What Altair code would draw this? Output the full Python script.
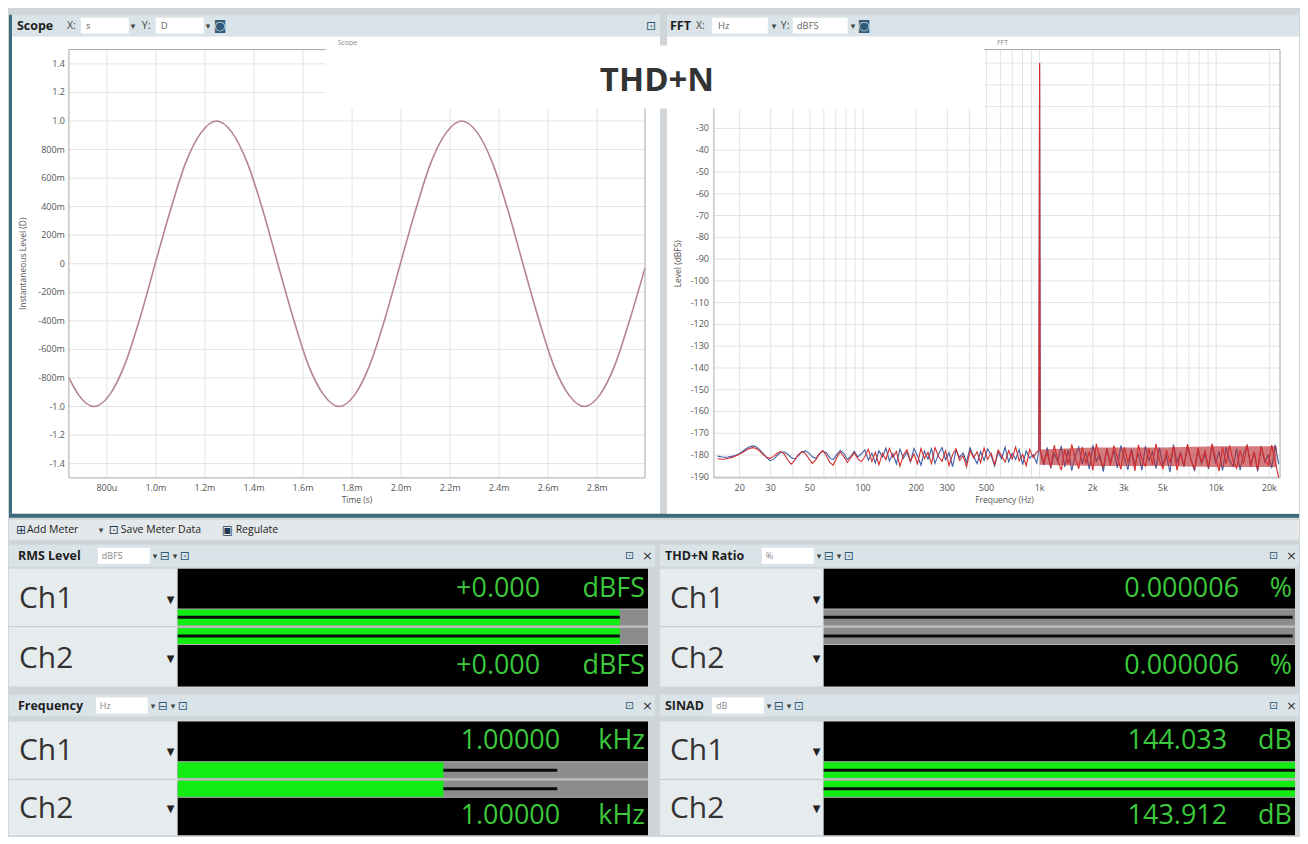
import altair as alt
import numpy as np
import pandas as pd

# ---------------- Scope: instantaneous level (both channels overlap) ----------------
scope_time_ms = [0.645, 0.685, 0.747, 0.810, 0.872, 0.935, 0.997, 1.060, 1.122, 1.185,
                 1.247, 1.310, 1.372, 1.435, 1.497, 1.560, 1.622, 1.685, 1.747, 1.810,
                 1.872, 1.935, 1.997, 2.060, 2.122, 2.185, 2.247, 2.310, 2.372, 2.435,
                 2.497, 2.560, 2.622, 2.685, 2.747, 2.810, 2.872, 2.935, 2.995]
scope_level = [-0.80, -0.92, -1.00, -0.92, -0.71, -0.38, 0.00, 0.38, 0.71, 0.92,
               1.00, 0.92, 0.71, 0.38, 0.00, -0.38, -0.71, -0.92, -1.00, -0.92,
               -0.71, -0.38, 0.00, 0.38, 0.71, 0.92, 1.00, 0.92, 0.71, 0.38,
               0.00, -0.38, -0.71, -0.92, -1.00, -0.92, -0.71, -0.38, -0.03]
scope_x_ticks = [0.8, 1.0, 1.2, 1.4, 1.6, 1.8, 2.0, 2.2, 2.4, 2.6, 2.8]
scope_x_labels = ["800u", "1.0m", "1.2m", "1.4m", "1.6m", "1.8m", "2.0m", "2.2m", "2.4m", "2.6m", "2.8m"]
scope_y_ticks = [-1.4, -1.2, -1.0, -0.8, -0.6, -0.4, -0.2, 0.0, 0.2, 0.4, 0.6, 0.8, 1.0, 1.2, 1.4]
scope_y_labels = ["-1.4", "-1.2", "-1.0", "-800m", "-600m", "-400m", "-200m", "0",
                  "200m", "400m", "600m", "800m", "1.0", "1.2", "1.4"]

# ---------------- FFT spectrum (dBFS) ----------------
fft_ch1_low = [-180.5, -180.8, -181.0, -180.9, -180.6, -180.2, -179.5, -178.5, -177.2, -176.3, -175.8,
               -176.2, -177.5, -179.3, -181.2, -182.6, -182.0, -180.2, -178.8, -178.5, -179.6,
               -181.2, -181.8, -180.4, -178.6, -178.1, -179.0, -180.8, -181.5, -179.6, -178.2,
               -178.9, -181.3, -182.1, -179.7, -177.9, -179.2, -182.0, -180.6, -178.3, -180.9, -179.4]
fft_ch1_mid = [-177.6, -182.4, -179.1, -183.6, -178.0, -180.9, -176.8, -182.7, -179.4, -184.1,
               -177.3, -181.5, -178.6, -183.2, -176.9, -180.4, -184.6, -178.2, -181.9, -177.1,
               -183.8, -179.6, -176.5, -182.2, -178.9, -185.3, -177.8, -181.1, -179.0, -183.4,
               -176.7, -180.6, -184.0, -178.4, -182.5, -177.2, -180.1, -185.0, -178.7, -181.7,
               -176.4, -183.1, -179.3, -182.0, -177.5, -184.4, -178.1, -181.4, -179.8, -183.7]
fft_ch1_high = [-178.2, -184.6, -176.5, -186.1, -179.3, -183.0, -175.8, -185.4, -177.6, -187.2,
                -180.1, -176.2, -184.0, -178.7, -186.5, -175.4, -182.8, -179.9, -187.6, -176.9,
                -183.7, -178.0, -185.9, -175.6, -181.4, -186.8, -177.3, -184.3, -179.1, -187.0,
                -175.9, -182.5, -178.4, -186.2, -176.6, -184.8, -180.3, -187.9, -175.2, -183.3,
                -178.9, -185.6, -176.1, -182.0, -187.4, -177.8, -184.1, -179.6, -186.4, -175.5,
                -183.9, -178.3, -187.1, -176.4, -182.7, -185.2, -177.0, -186.9, -179.4, -175.7,
                -184.5, -178.6, -187.5, -176.0, -183.1, -180.0, -186.0, -175.3, -184.2]
fft_ch2_low = [-181.6, -181.9, -181.8, -181.5, -181.2, -180.6, -179.8, -178.9, -177.9, -177.0, -176.6,
               -177.0, -178.2, -179.8, -181.0, -181.5, -180.6, -179.2, -178.4, -179.5, -182.3,
               -184.2, -182.5, -179.9, -178.4, -179.3, -181.6, -183.8, -182.2, -179.5, -178.0,
               -180.2, -183.5, -184.6, -181.0, -178.6, -180.8, -183.3, -181.2, -178.9, -181.8, -183.0]
fft_ch2_mid = [-180.8, -177.4, -183.0, -178.7, -184.5, -179.2, -182.1, -176.9, -181.0, -178.3,
               -185.1, -180.0, -177.6, -182.8, -179.5, -184.0, -177.0, -181.6, -178.8, -183.9,
               -176.6, -180.7, -182.9, -178.1, -184.8, -179.9, -177.2, -182.4, -180.3, -185.4,
               -177.9, -181.3, -178.5, -183.5, -176.8, -182.0, -179.1, -184.3, -177.7, -180.5,
               -183.2, -178.0, -181.8, -176.3, -182.6, -179.7, -184.9, -177.4, -181.2, -178.6]
fft_ch2_high = [-176.8, -183.4, -178.9, -185.7, -175.5, -182.3, -186.9, -177.4, -184.2, -175.1,
                -181.6, -186.3, -176.2, -183.8, -178.5, -187.1, -174.9, -182.0, -185.5, -177.1,
                -184.7, -175.7, -180.9, -186.6, -176.5, -183.1, -178.2, -187.3, -175.3, -181.9,
                -185.1, -176.9, -184.4, -174.8, -182.6, -186.2, -177.6, -183.6, -175.9, -187.0,
                -179.0, -184.9, -175.0, -182.4, -186.5, -176.7, -183.2, -178.1, -185.8, -174.7,
                -181.5, -187.4, -176.3, -184.0, -175.6, -182.9, -186.1, -177.9, -183.9, -175.2,
                -185.3, -178.4, -186.8, -176.0, -182.2, -184.6, -175.4, -183.0, -190.5]
peak_freq = [990.0, 1000.0, 1010.0]
peak_level = [-178.0, 0.0, -178.0]
noise_band_freq = [1000, 2000, 5000, 10000, 22000]
noise_band_lo = [-184.5, -185.0, -185.0, -185.5, -185.5]
noise_band_hi = [-177.5, -176.5, -176.5, -176.0, -176.0]
fft_x_grid = [20, 30, 40, 50, 60, 70, 80, 90, 100, 200, 300, 400, 500, 600, 700, 800, 900,
              1000, 2000, 3000, 4000, 5000, 6000, 7000, 8000, 9000, 10000, 20000]
fft_x_ticks = [20, 30, 50, 100, 200, 300, 500, 1000, 2000, 3000, 5000, 10000, 20000]
fft_x_labels = ["20", "30", "50", "100", "200", "300", "500", "1k", "2k", "3k", "5k", "10k", "20k"]
fft_y_grid = list(range(-190, 1, 10))
fft_y_ticks = list(range(-190, -29, 10))
fft_y_labels = [str(v) for v in fft_y_ticks]

# ---------------- Meters ----------------
meter_titles = ["RMS Level", "THD+N Ratio", "Frequency", "SINAD"]
meter_header_units = ["dBFS", "%", "Hz", "dB"]
meter_display_units = ["dBFS", "%", "kHz", "dB"]
channels = ["Ch1", "Ch2"]
ch1_readings = ["+0.000", "0.000006", "1.00000", "144.033"]
ch2_readings = ["+0.000", "0.000006", "1.00000", "143.912"]
bar_fill = [0.94, 0.0, 0.565, 1.0]
marker_start = [0.0, 0.0, 0.565, 0.0]
marker_end = [0.94, 0.995, 0.807, 1.0]

# ---------------- helpers ----------------
ONE = pd.DataFrame({"k": [0]})
UI = "Open Sans"
SYM = "DejaVu Sans"
HDR = "#dae4e8"
TEAL = "#3d6b7b"
GREEN_TXT = "#3cc83c"
ICON = "#2f5a78"
LAB = "#555555"


def txt(s, x, y, size=11.0, color="#222", weight="normal", font=UI, align="left", angle=0):
    return alt.Chart(ONE).mark_text(
        text=s, fontSize=size, color=color, fontWeight=weight, font=font,
        align=align, baseline="middle", angle=angle
    ).encode(x=alt.value(x), y=alt.value(y))


def box(x, x2, y, y2, fill, **kw):
    return alt.Chart(ONE).mark_rect(fill=fill, **kw).encode(
        x=alt.value(x), x2=alt.value(x2), y=alt.value(y), y2=alt.value(y2))


def spacer(w, h):
    return box(0, w, 0, h, "white", opacity=0).properties(width=w, height=h)


SW, FW, PH = 577, 567, 429
GRID = "#e3e3e3"


def xlabels(ticks, labels, field, scale):
    return alt.Chart(pd.DataFrame({field: ticks, "lab": labels})).mark_text(
        fontSize=9, color=LAB, font=UI, baseline="middle").encode(
        x=alt.X(f"{field}:Q", scale=scale, axis=None), y=alt.value(PH + 10), text="lab:N")


def ylabels(ticks, labels, field, scale, xpos):
    return alt.Chart(pd.DataFrame({field: ticks, "lab": labels})).mark_text(
        fontSize=9, color=LAB, font=UI, baseline="middle", align="right").encode(
        y=alt.Y(f"{field}:Q", scale=scale, axis=None), x=alt.value(xpos), text="lab:N")


# ---------------- Scope chart ----------------
xs = alt.Scale(domain=[0.645, 2.995], nice=False, zero=False)
ys = alt.Scale(domain=[-1.5, 1.5], nice=False, zero=False)

scope_chrome = [
    box(-60, -57, -35, 465, TEAL),
    box(-57, 592, -35, -13, HDR),
    box(-57, 592, -13, 465, "white"),
    box(-60, 1232, 465, 469, TEAL),
    box(12, 60, -32, -16, "white"),
    box(87, 135, -32, -16, "white"),
    txt("Scope", -52, -24, 12.5, "#1e1e1e", "bold"),
    txt("X:", -2, -24, 10.5, "#444"),
    txt("s", 17, -24, 9.5, "#666"),
    txt("▾", 62, -24, 9, "#444", font=SYM),
    txt("Y:", 73, -24, 10.5, "#444"),
    txt("D", 92, -24, 9.5, "#666"),
    txt("▾", 137, -24, 9, "#444", font=SYM),
    txt("◙", 145, -24, 13, ICON, font=SYM),
    txt("⊡", 578, -24, 12, ICON, font=SYM),
    txt("Scope", 279, -7, 7, "#888", align="center"),
    txt("Time (s)", SW / 2, PH + 22, 8.5, LAB, align="center"),
    txt("Instantaneous Level (D)", -46, PH / 2, 8.5, LAB, align="center", angle=270),
]
scope_gx = alt.Chart(pd.DataFrame({"t": scope_x_ticks})).mark_rule(color=GRID).encode(
    x=alt.X("t:Q", scale=xs, axis=None))
scope_gy = alt.Chart(pd.DataFrame({"v": scope_y_ticks})).mark_rule(color=GRID).encode(
    y=alt.Y("v:Q", scale=ys, axis=None))
scope_line = alt.Chart(pd.DataFrame({"t": scope_time_ms, "v": scope_level})).mark_line(
    color="#b4868b", strokeWidth=1.6, interpolate="monotone"
).encode(x=alt.X("t:Q", scale=xs, axis=None), y=alt.Y("v:Q", scale=ys, axis=None))
scope_frame = box(0, SW, 0, PH, "white", fillOpacity=0, stroke="#a8a8a8", strokeWidth=1)
scope_chart = alt.layer(
    *scope_chrome, scope_gx, scope_gy, scope_line, scope_frame,
    xlabels(scope_x_ticks, scope_x_labels, "t", xs),
    ylabels(scope_y_ticks, scope_y_labels, "v", ys, -4),
).properties(width=SW, height=PH)

# ---------------- FFT chart ----------------
fx = alt.Scale(type="log", domain=[14.3, 23000], nice=False)
fy = alt.Scale(domain=[-190.5, 6.2], nice=False, zero=False)


def fft_df(values):
    f = np.geomspace(15, 22600, len(values))
    return pd.DataFrame({"f": np.concatenate([f, peak_freq]),
                         "db": np.concatenate([values, peak_level])})


ch1_vals = fft_ch1_low + fft_ch1_mid + fft_ch1_high
ch2_vals = fft_ch2_low + fft_ch2_mid + fft_ch2_high

fft_chrome = [
    box(-47, 586, -35, -13, HDR),
    box(-47, 586, -13, 465, "white"),
    box(-2, 54, -32, -16, "white"),
    box(79, 134, -32, -16, "white"),
    txt("FFT", -44, -24, 12.5, "#1e1e1e", "bold"),
    txt("X:", -18, -24, 10.5, "#444"),
    txt("Hz", 4, -24, 9.5, "#666"),
    txt("▾", 58, -24, 9, "#444", font=SYM),
    txt("Y:", 67, -24, 10.5, "#444"),
    txt("dBFS", 83, -24, 9.5, "#666"),
    txt("▾", 137, -24, 9, "#444", font=SYM),
    txt("◙", 144, -24, 13, ICON, font=SYM),
    txt("FFT", 289, -7, 7, "#888", align="center"),
    txt("Frequency (Hz)", 291, PH + 22, 8.5, LAB, align="center"),
    txt("Level (dBFS)", -36, PH / 2, 8.5, LAB, align="center", angle=270),
]
fft_gx = alt.Chart(pd.DataFrame({"f": fft_x_grid})).mark_rule(color=GRID).encode(
    x=alt.X("f:Q", scale=fx, axis=None))
fft_gy = alt.Chart(pd.DataFrame({"db": fft_y_grid})).mark_rule(color=GRID).encode(
    y=alt.Y("db:Q", scale=fy, axis=None))
fft_band = alt.Chart(pd.DataFrame({"f": noise_band_freq, "lo": noise_band_lo, "hi": noise_band_hi})).mark_area(
    color="#b82a30", opacity=0.62).encode(
    x=alt.X("f:Q", scale=fx, axis=None), y=alt.Y("lo:Q", scale=fy, axis=None), y2="hi:Q")
fft_line1 = alt.Chart(fft_df(ch1_vals)).mark_line(color="#3d5fa8", strokeWidth=1.1).encode(
    x=alt.X("f:Q", scale=fx, axis=None), y=alt.Y("db:Q", scale=fy, axis=None))
fft_line2 = alt.Chart(fft_df(ch2_vals)).mark_line(color="#d42c2c", strokeWidth=1.1).encode(
    x=alt.X("f:Q", scale=fx, axis=None), y=alt.Y("db:Q", scale=fy, axis=None))
fft_frame = box(0, FW, 0, PH, "white", fillOpacity=0, stroke="#a8a8a8", strokeWidth=1)
thd_box = box(-389, 271, -4, 59, "white")
thd_text = txt("THD+N", -57, 31, 33, "#333", "bold", align="center")
fft_chart = alt.layer(
    *fft_chrome, fft_gx, fft_gy, fft_line1, fft_band, fft_line2, fft_frame,
    xlabels(fft_x_ticks, fft_x_labels, "f", fx),
    ylabels(fft_y_ticks, fft_y_labels, "db", fy, -5),
    thd_box, thd_text,
).properties(width=FW, height=PH)

top_row = alt.hconcat(spacer(60, PH), scope_chart, spacer(69, PH), fft_chart,
                      spacing=0, bounds="flush")


# ---------------- meter panels (view = the two-bar area of the display) ----------------
def meter_panel(i, left, right, disp_w, bot_h, title_x, box_x, num_off, hdr_top=-64, toolbar=False):
    def px(p):
        return p - left

    hy = hdr_top + 11
    ch2_y = 36 + bot_h / 2 - 7
    chrome = []
    if toolbar:
        chrome += [
            box(-left, 1292 - left, -89, -69, "#e5e8ea"),
            txt("⊞", px(7), -79, 12, "#1f3b57", font=SYM),
            txt("Add Meter", px(18), -79, 10.5, "#222"),
            txt("▾", px(90), -79, 9, "#444", font=SYM),
            txt("⊡", px(100), -79, 12, "#1f3b57", font=SYM),
            txt("Save Meter Data", px(112), -79, 10.5, "#222"),
            txt("▣", px(213), -79, 12, "#1f3b57", font=SYM),
            txt("Regulate", px(227), -79, 10.5, "#222"),
        ]
    chrome += [
        box(-left, right, hdr_top, hdr_top + 22, HDR),
        box(-left, -1, -40, 36 + bot_h, "#e6ebee"),
        box(0, disp_w, -40, 0, "black"),
        box(0, disp_w, 36, 36 + bot_h, "black"),
        alt.Chart(ONE).mark_rule(color="#c2c8cc").encode(
            x=alt.value(-left), x2=alt.value(-1), y=alt.value(18)),
        txt(meter_titles[i], px(title_x), hy, 12.5, "#1e1e1e", "bold"),
        box(px(box_x), px(box_x + 52), hy - 8, hy + 8, "white"),
        txt(meter_header_units[i], px(box_x + 4), hy, 9, "#888"),
        txt("▾", px(box_x + 55), hy, 9, "#444", font=SYM),
        txt("⊟", px(box_x + 62), hy, 12, ICON, font=SYM),
        txt("▾", px(box_x + 75), hy, 9, "#444", font=SYM),
        txt("⊡", px(box_x + 82), hy, 12, ICON, font=SYM),
        txt("⊡", right - 30, hy, 11, ICON, font=SYM),
        txt("×", right - 13, hy, 13, "#333", font=SYM),
        txt(channels[0], px(10), -10, 30, "#333"),
        txt(channels[1], px(10), ch2_y, 30, "#333"),
        txt("▼", -11, -9, 10, "#222", font=SYM),
        txt("▼", -11, ch2_y, 10, "#222", font=SYM),
    ]
    rd = pd.DataFrame({"reading": [ch1_readings[i], ch2_readings[i]],
                       "unit": [meter_display_units[i]] * 2,
                       "channel": channels})
    values = []
    for k, yv in enumerate([-20, 36 + bot_h / 2]):
        d = rd.iloc[[k]]
        values.append(alt.Chart(d).mark_text(align="right", baseline="middle", fontSize=27,
                                             color=GREEN_TXT, font=UI).encode(
            text="reading:N", x=alt.value(disp_w - num_off), y=alt.value(yv)))
        values.append(alt.Chart(d).mark_text(align="right", baseline="middle", fontSize=27,
                                             color=GREEN_TXT, font=UI).encode(
            text="unit:N", x=alt.value(disp_w - 3), y=alt.value(yv)))

    bar_df = pd.DataFrame({"channel": channels, "lo": [0.0, 0.0], "hi": [1.0, 1.0],
                           "fill": [bar_fill[i]] * 2,
                           "m0": [marker_start[i]] * 2, "m1": [marker_end[i]] * 2})
    bx = alt.Scale(domain=[0, 1], nice=False, zero=False)
    by = alt.Scale(domain=channels, paddingInner=0.15, paddingOuter=0.04)
    base = alt.Chart(bar_df)
    gap = box(0, disp_w, 0, 36, "#b8b8b8")
    track = base.mark_bar(color="#8c8c8c").encode(
        x=alt.X("lo:Q", scale=bx, axis=None), x2="hi:Q", y=alt.Y("channel:N", scale=by, axis=None))
    green = base.mark_bar(color="#12ec12").encode(
        x=alt.X("lo:Q", scale=bx, axis=None), x2="fill:Q", y=alt.Y("channel:N", scale=by, axis=None))
    marker = base.mark_bar(color="#0a0a0a", size=3).encode(
        x=alt.X("m0:Q", scale=bx, axis=None), x2="m1:Q", y=alt.Y("channel:N", scale=by, axis=None))
    return alt.layer(*chrome, *values, gap, track, green, marker).properties(width=disp_w, height=36)


meter_row1 = alt.hconcat(
    spacer(169, 36),
    meter_panel(0, 169, 478, 471, 42, 9, 89, 108, toolbar=True),
    spacer(176, 36),
    meter_panel(1, 164, 476, 472, 42, 5, 102, 56),
    spacing=0, bounds="flush")
meter_row2 = alt.hconcat(
    spacer(169, 36),
    meter_panel(2, 169, 478, 471, 38, 9, 87, 88, hdr_top=-67),
    spacer(176, 36),
    meter_panel(3, 164, 476, 472, 38, 5, 52, 68, hdr_top=-67),
    spacing=0, bounds="flush")

chart = alt.vconcat(
    spacer(1, 3),
    top_row,
    meter_row1,
    spacer(1, 4),
    meter_row2,
    spacing=0,
).properties(background="#cfd5d8", padding=0).configure_view(stroke="transparent")

chart.save("out.html", embed_options={"renderer": "svg", "actions": False})
